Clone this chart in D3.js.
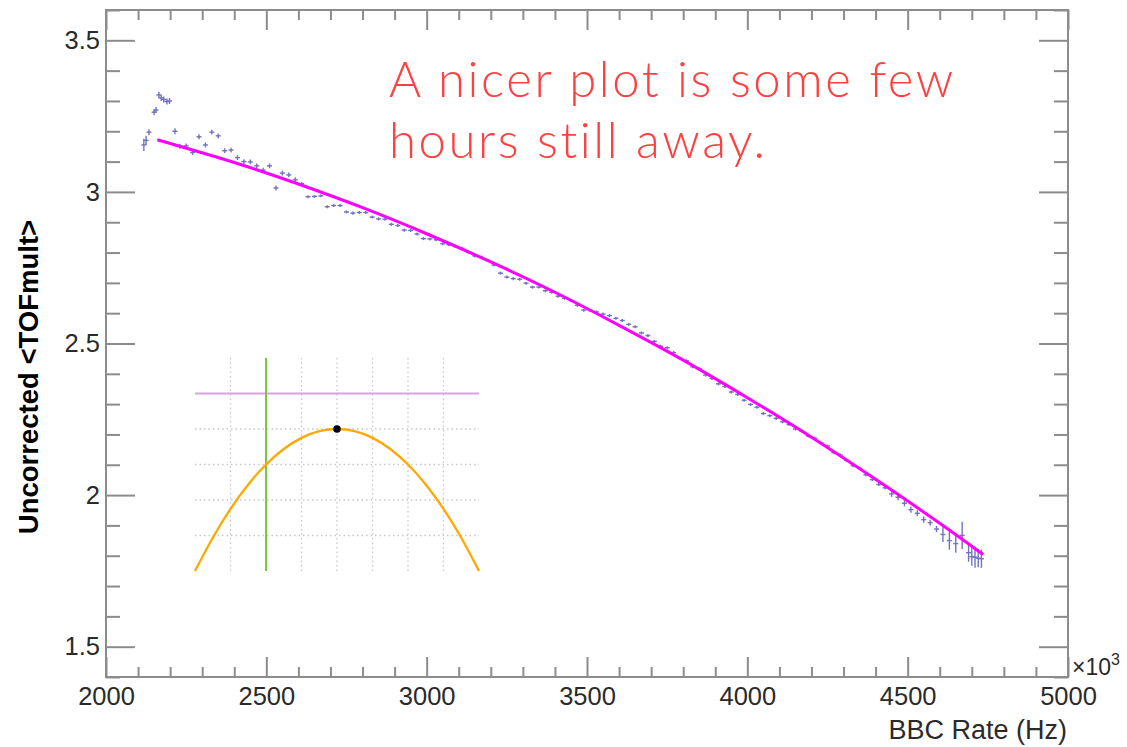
<!DOCTYPE html>
<html><head><meta charset="utf-8">
<script src="https://cdn.jsdelivr.net/npm/d3@7"></script>
<style>html,body{margin:0;padding:0;background:#fff;} svg{display:block}</style>
</head><body>
<svg id="chart" width="1127" height="747"></svg>
<script>
// ---------- data ----------
const rateHz = [
  2118,2125,2134,2150,2156,2165,2172,2180,2190,2198,2215,
  2230,2250,2270,2290,2310,2330,2350,2370,2390,2410,2430,2450,2470,2490,2510,2530,2550,2570,2590,
  2610,2630,2650,2670,2690,2710,2730,2750,2770,2790,2810,2830,2850,2870,2890,2910,2930,2950,2970,2990,
  3010,3030,3050,3070,3090,3110,3130,3150,3170,3190,3210,3230,3250,3270,3290,3310,3330,3350,3370,3390,
  3410,3430,3450,3470,3490,3510,3530,3550,3570,3590,3610,3630,3650,3670,3690,3710,3730,3750,3770,3790,
  3810,3830,3850,3870,3890,3910,3930,3950,3970,3990,4010,4030,4050,4070,4090,4110,4130,4150,4170,4190,
  4210,4230,4250,4270,4290,4310,4330,4350,4370,4390,4410,4430,4450,4470,4490,4510,4530,4550,4570,4590,
  4610,4630,4650,4670,4690,4700,4710,4720,4730
];
const tofMult = [
  3.155,3.170,3.197,3.263,3.270,3.320,3.310,3.305,3.298,3.300,3.200,
  3.150,3.152,3.130,3.182,3.155,3.197,3.185,3.136,3.138,3.113,3.100,3.099,3.086,3.072,3.086,3.013,3.062,3.056,3.040,
  3.027,2.984,2.985,2.987,2.951,2.955,2.955,2.934,2.930,2.932,2.932,2.917,2.911,2.910,2.893,2.889,2.874,2.873,2.861,2.846,
  2.845,2.842,2.829,2.826,2.820,2.814,2.801,2.789,2.785,2.774,2.759,2.732,2.719,2.714,2.712,2.699,2.686,2.686,2.674,2.669,
  2.656,2.649,2.642,2.626,2.610,2.609,2.604,2.597,2.592,2.583,2.576,2.563,2.555,2.535,2.526,2.507,2.491,2.486,2.470,2.451,
  2.443,2.423,2.417,2.396,2.385,2.367,2.358,2.340,2.332,2.313,2.299,2.290,2.269,2.262,2.253,2.242,2.233,2.218,2.211,2.195,
  2.188,2.172,2.162,2.140,2.132,2.114,2.097,2.089,2.067,2.051,2.035,2.024,2.004,1.993,1.973,1.952,1.940,1.919,1.909,1.888,
  1.870,1.850,1.840,1.867,1.810,1.797,1.795,1.792,1.790
];
const tofErr = [
  0.020,0.015,0.010,0.010,0.010,0.010,0.010,0.010,0.010,0.010,0.010,
  0.008,0.008,0.008,0.008,0.008,0.008,0.008,0.008,0.008,0.008,0.008,0.008,0.008,0.008,0.008,0.008,0.008,0.008,0.008,
  0.005,0.005,0.005,0.005,0.005,0.005,0.005,0.005,0.005,0.005,0.005,0.005,0.005,0.005,0.005,0.005,0.005,0.005,0.005,0.005,
  0.005,0.005,0.005,0.005,0.005,0.005,0.005,0.005,0.005,0.005,0.005,0.005,0.005,0.005,0.005,0.005,0.005,0.005,0.005,0.005,
  0.005,0.005,0.005,0.005,0.005,0.005,0.005,0.005,0.005,0.005,0.005,0.005,0.005,0.005,0.005,0.005,0.005,0.005,0.005,0.005,
  0.005,0.005,0.005,0.005,0.005,0.005,0.005,0.005,0.005,0.005,0.005,0.005,0.005,0.005,0.005,0.005,0.005,0.005,0.005,0.005,
  0.005,0.005,0.005,0.005,0.005,0.005,0.005,0.005,0.005,0.005,0.005,0.005,0.010,0.010,0.010,0.010,0.010,0.010,0.010,0.010,
  0.025,0.030,0.030,0.045,0.030,0.030,0.035,0.030,0.030
];
const fitX = [2160,2400,2600,2800,3000,3200,3400,3600,3800,4000,4200,4400,4600,4735];
const fitY = [3.172,3.097,3.026,2.948,2.862,2.769,2.669,2.560,2.445,2.321,2.191,2.052,1.907,1.804];

const xTickValues = [2000,2500,3000,3500,4000,4500,5000];
const yTickValues = [1.5,2,2.5,3,3.5];

// inset sketch (parabola diagram)
const insetGridX = [-3,-2,-1,0,1,2,3];
const insetGridY = [-3,-2,-1,0];
const insetCurveX = [-4,-3.5,-3,-2.5,-2,-1.5,-1,-0.5,0,0.5,1,1.5,2,2.5,3,3.5,4];
const insetCurveY = [-4,-3.0625,-2.25,-1.5625,-1,-0.5625,-0.25,-0.0625,0,-0.0625,-0.25,-0.5625,-1,-1.5625,-2.25,-3.0625,-4];
const insetHLine = 1;
const insetVLine = -2;
const insetPeak = [0,0];

const noteLines = ["A nicer plot is some few", "hours still away."];

// ---------- drawing ----------
const svg = d3.select("#chart");
const W = 1127, H = 747;
const x = d3.scaleLinear().domain([2000,5000]).range([106,1068]);
const y = d3.scaleLinear().domain([1.4,3.6]).range([677,10]);
const axisColor = "#8c8c8c";
const font = "'Liberation Sans', Arial, Helvetica, sans-serif";

svg.append("rect").attr("width",W).attr("height",H).attr("fill","#fff");

// frame
svg.append("rect").attr("x",x(2000)).attr("y",y(3.6))
  .attr("width",x(5000)-x(2000)).attr("height",y(1.4)-y(3.6))
  .attr("fill","none").attr("stroke",axisColor).attr("stroke-width",2);

const minorX = x.ticks(30).filter(v => !xTickValues.includes(v));
const minorY = y.ticks(22).filter(v => !yTickValues.some(t => Math.abs(t - v) < 1e-9));

function styleAxis(g){
  g.select(".domain").remove();
  g.selectAll(".tick line").attr("stroke",axisColor).attr("stroke-width",2);
  g.selectAll("text").attr("font-family",font).attr("font-size",25.5).attr("fill","#2a2a2a");
}
// bottom
svg.append("g").attr("transform",`translate(0,${y(1.4)})`)
  .call(d3.axisBottom(x).tickValues(xTickValues).tickSize(-20).tickPadding(10).tickFormat(d3.format("d")))
  .call(styleAxis);
svg.append("g").attr("transform",`translate(0,${y(1.4)})`)
  .call(d3.axisBottom(x).tickValues(minorX).tickSize(-10).tickFormat(""))
  .call(styleAxis);
// top
svg.append("g").attr("transform",`translate(0,${y(3.6)})`)
  .call(d3.axisTop(x).tickValues(xTickValues).tickSize(-20).tickFormat(""))
  .call(styleAxis);
svg.append("g").attr("transform",`translate(0,${y(3.6)})`)
  .call(d3.axisTop(x).tickValues(minorX).tickSize(-10).tickFormat(""))
  .call(styleAxis);
// left
svg.append("g").attr("transform",`translate(${x(2000)},0)`)
  .call(d3.axisLeft(y).tickValues(yTickValues).tickSize(-29).tickPadding(6).tickFormat(d => String(d)))
  .call(styleAxis);
svg.append("g").attr("transform",`translate(${x(2000)},0)`)
  .call(d3.axisLeft(y).tickValues(minorY).tickSize(-14).tickFormat(""))
  .call(styleAxis);
// right
svg.append("g").attr("transform",`translate(${x(5000)},0)`)
  .call(d3.axisRight(y).tickValues(yTickValues).tickSize(-29).tickFormat(""))
  .call(styleAxis);
svg.append("g").attr("transform",`translate(${x(5000)},0)`)
  .call(d3.axisRight(y).tickValues(minorY).tickSize(-14).tickFormat(""))
  .call(styleAxis);

// x10^3
const exp = svg.append("text").attr("x",1072).attr("y",675)
  .attr("font-family",font).attr("font-size",23).attr("fill","#2a2a2a");
exp.append("tspan").text("×10");
exp.append("tspan").attr("dy",-10).attr("font-size",16).text("3");

// axis titles
svg.append("text").attr("x",1067).attr("y",739).attr("text-anchor","end")
  .attr("font-family",font).attr("font-size",27).attr("fill","#2a2a2a").text("BBC Rate (Hz)");
svg.append("text").attr("transform","translate(38,377) rotate(-90)").attr("text-anchor","middle")
  .attr("font-family",font).attr("font-weight","bold").attr("font-size",27.5).attr("fill","#000")
  .text("Uncorrected <TOFmult>");

// data points
const pts = rateHz.map((r,i) => ({r, v: tofMult[i], e: tofErr[i]}));
const ptColor = "#5a5ab4";
const pg = svg.append("g").attr("stroke",ptColor).attr("stroke-width",1.4).attr("opacity",0.85);
pg.selectAll("line.ey").data(pts).join("line").attr("class","ey")
  .attr("x1",d=>x(d.r)).attr("x2",d=>x(d.r))
  .attr("y1",d=>y(d.v - d.e)).attr("y2",d=>y(d.v + d.e));
pg.selectAll("line.ex").data(pts).join("line").attr("class","ex")
  .attr("x1",d=>x(d.r)-2.5).attr("x2",d=>x(d.r)+2.5)
  .attr("y1",d=>y(d.v)).attr("y2",d=>y(d.v));

// fit line
const fit = fitX.map((r,i)=>[r, fitY[i]]);
svg.append("path").datum(fit)
  .attr("d", d3.line().x(d=>x(d[0])).y(d=>y(d[1])).curve(d3.curveNatural))
  .attr("fill","none").attr("stroke","#ff00ff").attr("stroke-width",3);

// inset
const ix = d3.scaleLinear().domain([-4,4]).range([195,479]);
const iy = d3.scaleLinear().domain([-4,2]).range([571,358]);
const ig = svg.append("g");
ig.selectAll("line.gv").data(insetGridX).join("line").attr("class","gv")
  .attr("x1",d=>ix(d)).attr("x2",d=>ix(d)).attr("y1",iy(2)).attr("y2",iy(-4))
  .attr("stroke","#c8c8c8").attr("stroke-width",1.3).attr("stroke-dasharray","1.5,3");
ig.selectAll("line.gh").data(insetGridY).join("line").attr("class","gh")
  .attr("x1",ix(-4)).attr("x2",ix(4)).attr("y1",d=>iy(d)).attr("y2",d=>iy(d))
  .attr("stroke","#c8c8c8").attr("stroke-width",1.3).attr("stroke-dasharray","1.5,3");
ig.append("line").attr("x1",ix(-4)).attr("x2",ix(4)).attr("y1",iy(insetHLine)).attr("y2",iy(insetHLine))
  .attr("stroke","#d7a3dc").attr("stroke-width",2.2);
ig.append("line").attr("x1",ix(insetVLine)).attr("x2",ix(insetVLine)).attr("y1",iy(2)).attr("y2",iy(-4))
  .attr("stroke","#7cc441").attr("stroke-width",2);
const curve = insetCurveX.map((v,i)=>[v, insetCurveY[i]]);
ig.append("path").datum(curve)
  .attr("d", d3.line().x(d=>ix(d[0])).y(d=>iy(d[1])).curve(d3.curveNatural))
  .attr("fill","none").attr("stroke","#ffa800").attr("stroke-width",2.3);
ig.append("circle").attr("cx",ix(insetPeak[0])).attr("cy",iy(insetPeak[1])).attr("r",3.8).attr("fill","#000");

// annotation
svg.append("g").selectAll("text").data(noteLines).join("text")
  .attr("x",389).attr("y",(d,i)=>97 + i*61)
  .attr("font-family","Lato, 'Open Sans', sans-serif").attr("font-weight",300)
  .attr("font-size",49).attr("letter-spacing",2.6).attr("fill","#ff4040").text(d=>d);
</script>
</body></html>
